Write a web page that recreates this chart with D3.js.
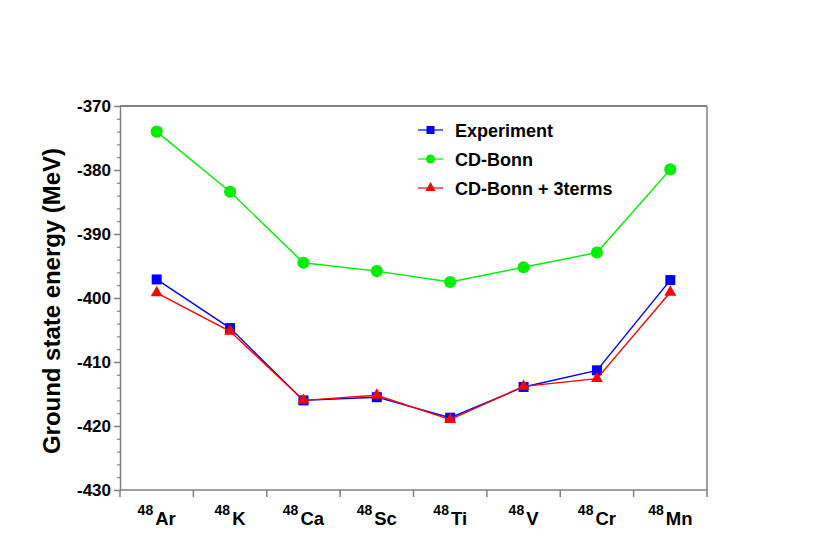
<!DOCTYPE html>
<html>
<head>
<meta charset="utf-8">
<script src="https://cdn.jsdelivr.net/npm/d3@7"></script>
<style>
  body { margin: 0; background: #fff; }
  svg { font-family: "Liberation Sans", Arial, sans-serif; }
  .y-axis text { font-size: 17px; font-weight: bold; fill: #000; }
</style>
</head>
<body>
<div id="chart"></div>
<script>
// nuclei along the x axis (mass number + element)
let mass_numbers = ["48", "48", "48", "48", "48", "48", "48", "48"];
let elements = ["Ar", "K", "Ca", "Sc", "Ti", "V", "Cr", "Mn"];

// ground state energies in MeV
let experiment = [-397.1, -404.7, -416.0, -415.5, -418.7, -413.9, -411.3, -397.2];
let cd_bonn = [-374.0, -383.4, -394.5, -395.8, -397.5, -395.2, -392.9, -379.9];
let cd_bonn_3terms = [-399.2, -405.2, -416.0, -415.2, -419.0, -413.8, -412.6, -399.1];

let y_major_ticks = [-370, -380, -390, -400, -410, -420, -430];
let y_minor_ticks = [-372, -374, -376, -378, -382, -384, -386, -388, -392, -394, -396, -398,
  -402, -404, -406, -408, -412, -414, -416, -418, -422, -424, -426, -428];

let legend_labels = ["Experiment", "CD-Bonn", "CD-Bonn + 3terms"];

// series table for drawing
let series = [
  { name: legend_labels[1], values: cd_bonn, color: "#00ee00", symbol: d3.symbolCircle, size: 115, legend_size: 64 },
  { name: legend_labels[0], values: experiment, color: "#0000ff", symbol: d3.symbolSquare, size: 100, legend_size: 64 },
  { name: legend_labels[2], values: cd_bonn_3terms, color: "#ff0000", symbol: d3.symbolTriangle, size: 62, legend_size: 45 },
];

let width = 817, height = 550;
let margin = { top: 106, right: 110, bottom: 60, left: 120 };
let axis_color = "#808080";

let svg = d3.select("#chart")
  .append("svg")
  .attr("width", width)
  .attr("height", height);

let x = d3.scaleBand()
  .domain(elements)
  .range([margin.left, width - margin.right])
  .padding(0);

let y = d3.scaleLinear()
  .domain([-430, -370])
  .range([height - margin.bottom, margin.top]);

// frame: top and right border
svg.append("line")
  .attr("x1", x.range()[0]).attr("x2", x.range()[1])
  .attr("y1", y(-370)).attr("y2", y(-370))
  .attr("stroke", axis_color).attr("stroke-width", 2);
svg.append("line")
  .attr("x1", x.range()[1]).attr("x2", x.range()[1])
  .attr("y1", y(-370)).attr("y2", y(-430))
  .attr("stroke", axis_color).attr("stroke-width", 1.5);

// y axis, minor ticks first
let y_minor = svg.append("g")
  .attr("transform", "translate(" + margin.left + ",0)")
  .call(d3.axisLeft(y).tickValues(y_minor_ticks).tickSize(3).tickFormat(""));
y_minor.select(".domain").remove();
y_minor.selectAll("line").attr("stroke", axis_color).attr("stroke-width", 1.2);

let y_axis = svg.append("g")
  .attr("class", "y-axis")
  .attr("transform", "translate(" + margin.left + ",0)")
  .call(d3.axisLeft(y)
    .tickValues(y_major_ticks)
    .tickSize(6)
    .tickPadding(3)
    .tickSizeOuter(0)
    .tickFormat((d) => String(d)));
y_axis.attr("font-size", 17).attr("font-family", null).attr("font-weight", "bold");
y_axis.select(".domain").attr("stroke", axis_color).attr("stroke-width", 1.5);
y_axis.selectAll(".tick line").attr("stroke", axis_color).attr("stroke-width", 1.5);

// x axis: line at the bottom, ticks on the band boundaries
let x_bottom = y(-430);
svg.append("line")
  .attr("x1", x.range()[0]).attr("x2", x.range()[1])
  .attr("y1", x_bottom).attr("y2", x_bottom)
  .attr("stroke", axis_color).attr("stroke-width", 1.5);

svg.selectAll(".x-tick")
  .data(d3.range(elements.length + 1))
  .enter()
  .append("line")
  .attr("class", "x-tick")
  .attr("x1", (d) => x.range()[0] + d * x.step())
  .attr("x2", (d) => x.range()[0] + d * x.step())
  .attr("y1", x_bottom)
  .attr("y2", x_bottom + 7)
  .attr("stroke", axis_color)
  .attr("stroke-width", 1.5);

// x labels: superscript mass number + element symbol
let x_labels = svg.selectAll(".x-label")
  .data(elements)
  .enter()
  .append("text")
  .attr("class", "x-label")
  .attr("x", (d) => x(d) + x.bandwidth() / 2)
  .attr("y", x_bottom + 35)
  .attr("text-anchor", "middle")
  .style("font-weight", "bold");

x_labels.append("tspan")
  .style("font-size", "14px")
  .attr("dy", -10)
  .text((d, i) => mass_numbers[i]);
x_labels.append("tspan")
  .style("font-size", "18.5px")
  .attr("dx", 2)
  .attr("dy", 10)
  .text((d) => d);

// y title
svg.append("text")
  .attr("transform", "translate(60," + (y(-400) + 3) + ") rotate(-90)")
  .attr("text-anchor", "middle")
  .style("font-size", "24px")
  .style("font-weight", "bold")
  .attr("textLength", 306)
  .attr("lengthAdjust", "spacingAndGlyphs")
  .text("Ground state energy (MeV)");

// lines and markers
let line = d3.line()
  .x((d, i) => x(elements[i]) + x.bandwidth() / 2)
  .y((d) => y(d));

series.forEach((s) => {
  svg.append("path")
    .datum(s.values)
    .attr("fill", "none")
    .attr("stroke", s.color)
    .attr("stroke-width", 1.4)
    .attr("d", line);

  svg.selectAll(null)
    .data(s.values)
    .enter()
    .append("path")
    .attr("transform", (d, i) =>
      "translate(" + (x(elements[i]) + x.bandwidth() / 2) + "," + y(d) + ")")
    .attr("d", d3.symbol().type(s.symbol).size(s.size))
    .attr("fill", s.color);
});

// legend
let legend_order = [series[1], series[0], series[2]];
let legend = svg.selectAll(".legend")
  .data(legend_order)
  .enter()
  .append("g")
  .attr("class", "legend")
  .attr("transform", (d, i) => "translate(418," + (130 + i * 29) + ")");

legend.append("line")
  .attr("x1", 0).attr("x2", 25)
  .attr("y1", 0).attr("y2", 0)
  .attr("stroke", (d) => d.color)
  .attr("stroke-width", 1.2);
legend.append("path")
  .attr("transform", "translate(12.5,0)")
  .attr("d", (d) => d3.symbol().type(d.symbol).size(d.legend_size)())
  .attr("fill", (d) => d.color);
legend.append("text")
  .attr("x", 37)
  .attr("y", 6.5)
  .style("font-size", "18px")
  .style("font-weight", "bold")
  .text((d) => d.name);
</script>
</body>
</html>
